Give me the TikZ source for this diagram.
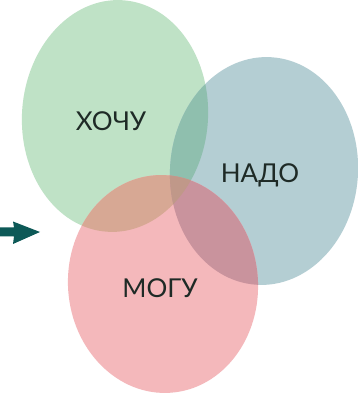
\documentclass[tikz,border=0pt]{standalone}
\usepackage{fontspec}
\newfontfamily\labelfont{Lato}
\definecolor{wantfill}{HTML}{BFE2C6}
\definecolor{mustfill}{HTML}{B4CED3}
\definecolor{canfill}{HTML}{F4B8BB}
\definecolor{wantmust}{HTML}{8FBFAE}
\definecolor{wantcan}{HTML}{D7A894}
\definecolor{mustcan}{HTML}{C9939D}
\definecolor{allthree}{HTML}{C09889}
\definecolor{arrowteal}{HTML}{0D5957}
\definecolor{labelink}{HTML}{1E2A26}
% the three ellipses
\newcommand\wantshape{[rotate around={-4:(115,286)}] (115,286) ellipse [x radius=93, y radius=116]}
\newcommand\mustshape{[rotate around={-4:(264,231)}] (264,231) ellipse [x radius=94, y radius=114]}
\newcommand\canshape{[rotate around={4:(163,118)}] (163,118) ellipse [x radius=95, y radius=109]}
\tikzset{
  circlelabel/.style={font=\labelfont\fontsize{26}{30}\selectfont, text=labelink, inner sep=0pt}
}
\begin{document}
\begin{tikzpicture}[x=1pt,y=1pt]
\useasboundingbox (0,0) rectangle (358,402);
\fill[white] (0,0) rectangle (358,402);
% base fills
\fill[wantfill] \wantshape;
\fill[mustfill] \mustshape;
\fill[canfill] \canshape;
% pairwise overlaps
\begin{scope}
  \clip \wantshape;
  \fill[wantmust] \mustshape;
  \fill[wantcan] \canshape;
\end{scope}
\begin{scope}
  \clip \mustshape;
  \fill[mustcan] \canshape;
\end{scope}
% centre where all three meet
\begin{scope}
  \clip \wantshape;
  \clip \mustshape;
  \fill[allthree] \canshape;
\end{scope}
% labels
\node[circlelabel] (want) at (111,281) {ХОЧУ};
\node[circlelabel] (must) at (260,227) {НАДО};
\node[circlelabel] (can) at (160,114) {МОГУ};
% arrow pointing at the diagram
\fill[arrowteal] (0,174.5) -- (14,174.5) -- (13,180.5) -- (40,170) -- (13,158) -- (14,165.5) -- (0,165.5) -- cycle;
\end{tikzpicture}
\end{document}
